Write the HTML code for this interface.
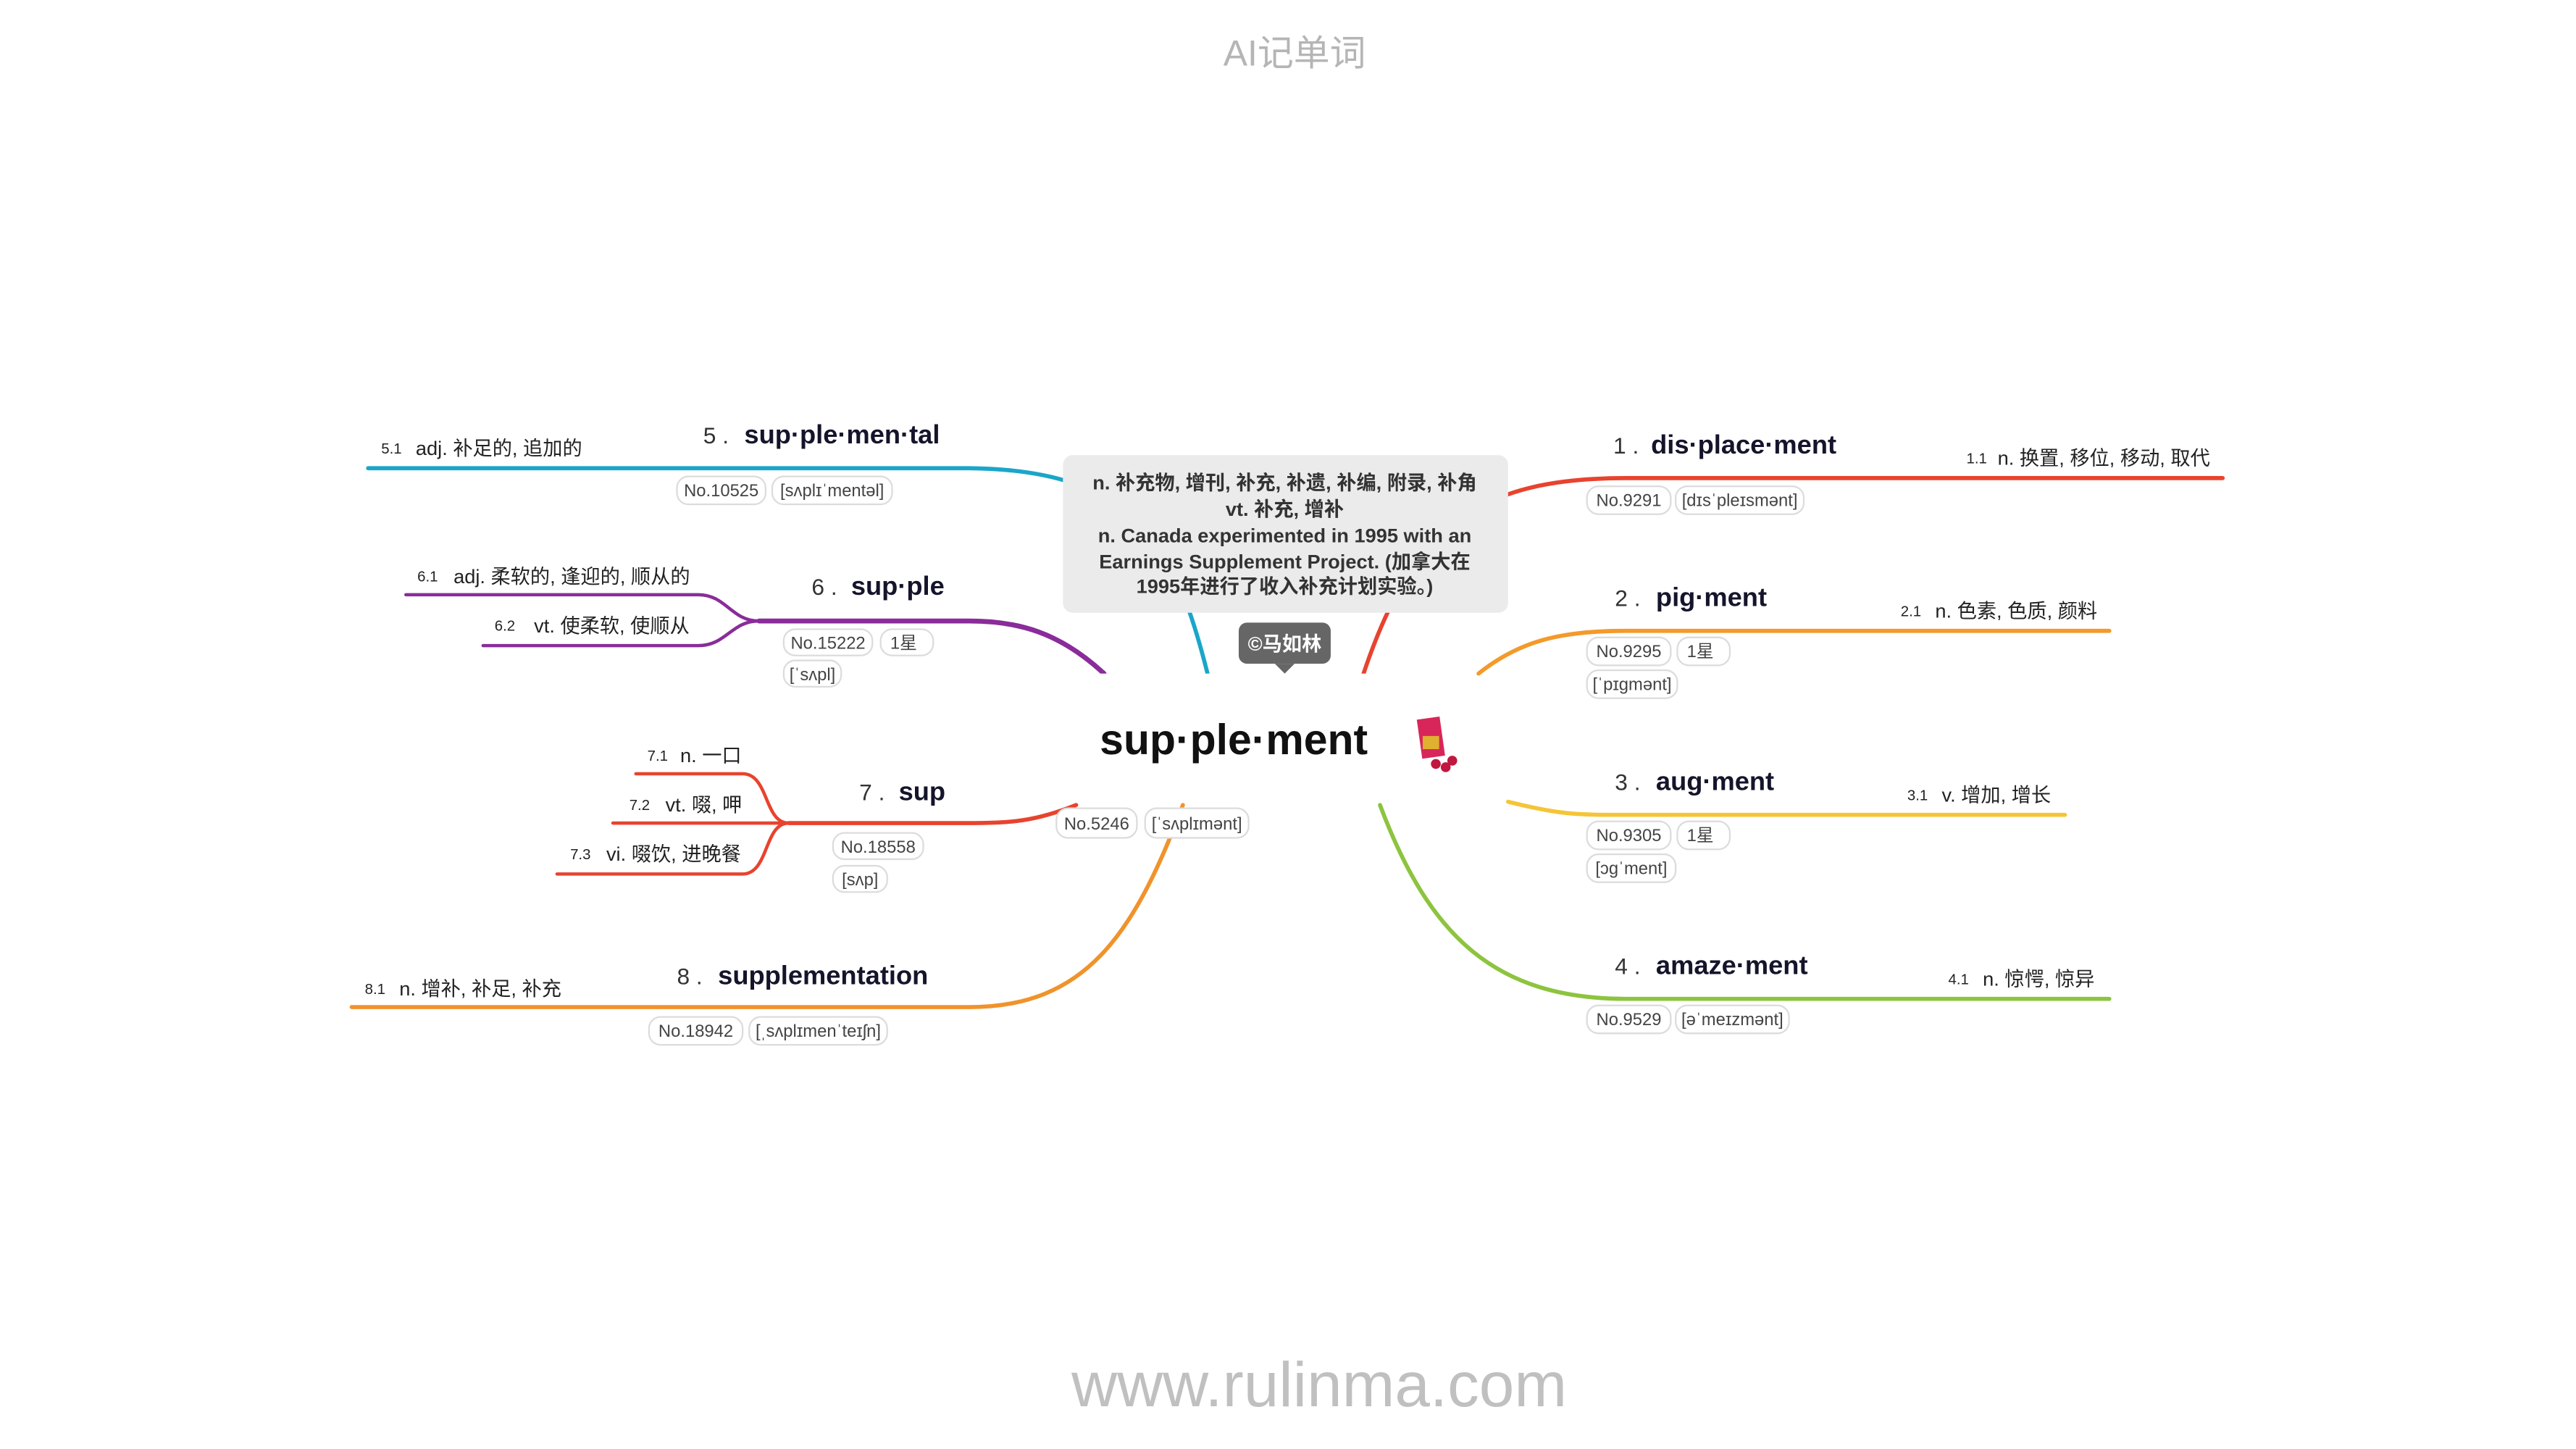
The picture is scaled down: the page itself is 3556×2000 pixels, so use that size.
<!DOCTYPE html>
<html><head><meta charset="utf-8"><style>
html,body{margin:0;padding:0;background:#fff;}
svg{display:block;font-family:"Liberation Sans","Noto Sans CJK SC",sans-serif;}
.pill rect{fill:#fff;stroke:#dcdcdc;stroke-width:1;}
.pill text{font-size:10.5px;fill:#444;}
.num{font-size:9px;fill:#222;}
.def{font-size:12px;fill:#222;}
.idx{font-size:14px;fill:#333;}
.word{font-size:16px;font-weight:bold;fill:#14142b;}
.ln{fill:none;stroke-linecap:round;}
</style></head><body>
<svg width="3556" height="2000" viewBox="0 0 1568 882">
<text x="788" y="40" text-anchor="middle" font-size="22" fill="#b5b5b5">AI记单词</text>
<text x="803" y="856" text-anchor="middle" font-size="38.5" fill="#c0c0c0">www.rulinma.com</text>

<g>
<path class="ln" d="M735,410 C715,330 690,286 590,285 L224,285" stroke="#1aa6c9" stroke-width="2.5"/>
<path class="ln" d="M830,410 C860,320 900,291 990,291 L1353,291" stroke="#e8432e" stroke-width="2.5"/>
<path class="ln" d="M672,410 C645,385 620,378 590,378 L462,378" stroke="#8a2c9a" stroke-width="3"/>
<path class="ln" d="M462,378 C445,378 442,362 425,362 L247,362" stroke="#8a2c9a" stroke-width="2"/>
<path class="ln" d="M462,378 C445,378 442,393 425,393 L294,393" stroke="#8a2c9a" stroke-width="2"/>
<path class="ln" d="M900,410 C925,390 950,384 990,384 L1284,384" stroke="#f39a2b" stroke-width="2.5"/>
<path class="ln" d="M655,490 C630,500 615,501 590,501 L480,501" stroke="#e8432e" stroke-width="2.5"/>
<path class="ln" d="M480,501 C465,501 468,471 452,471 L387,471" stroke="#e8432e" stroke-width="2"/>
<path class="ln" d="M480,501 L373,501" stroke="#e8432e" stroke-width="2"/>
<path class="ln" d="M480,501 C465,501 468,532 452,532 L339,532" stroke="#e8432e" stroke-width="2"/>
<path class="ln" d="M918,488 C950,496 960,496 990,496 L1257,496" stroke="#f5c537" stroke-width="2.5"/>
<path class="ln" d="M720,490 C690,570 660,613 590,613 L214,613" stroke="#f0932b" stroke-width="2.5"/>
<path class="ln" d="M840,490 C870,570 910,608 990,608 L1284,608" stroke="#8dc43f" stroke-width="2.5"/>
</g>

<rect x="640" y="410" width="220" height="78" fill="#fff"/>
<rect x="647" y="277" width="271" height="96" rx="6" fill="#ebebeb"/>
<g font-size="12" font-weight="bold" fill="#333" text-anchor="middle">
<text x="782" y="298">n. 补充物, 增刊, 补充, 补遗, 补编, 附录, 补角</text>
<text x="782" y="314">vt. 补充, 增补</text>
<text x="782" y="330">n. Canada experimented in 1995 with an</text>
<text x="782" y="346">Earnings Supplement Project. (加拿大在</text>
<text x="782" y="361">1995年进行了收入补充计划实验。)</text>
</g>
<g>
<rect x="754" y="379" width="56" height="25" rx="5" fill="#666"/>
<path d="M776,404 L782,410 L788,404 Z" fill="#666"/>
<text x="782" y="396" text-anchor="middle" font-size="12" font-weight="bold" fill="#fff">©马如林</text>
</g>
<text x="751" y="459" text-anchor="middle" font-size="26" font-weight="bold" fill="#111">sup·ple·ment</text>
<g>
<rect x="864" y="437" width="14" height="24" fill="#d8265a" transform="rotate(-8 871 449)"/>
<rect x="866" y="448" width="10" height="8" fill="#e0b030"/>
<circle cx="874" cy="465" r="3" fill="#c0183f"/><circle cx="880" cy="467" r="3" fill="#c0183f"/><circle cx="884" cy="463" r="3" fill="#c0183f"/>
</g>
<g class="pill"><rect x="643" y="492" width="49" height="18" rx="7"/><text x="667.5" y="505" text-anchor="middle">No.5246</text></g>
<g class="pill"><rect x="697" y="492" width="63" height="18" rx="7"/><text x="728.5" y="505" text-anchor="middle">[ˈsʌplɪmənt]</text></g>

<g>
<text x="428" y="270" class="idx">5 .</text><text x="453" y="270" class="word">sup·ple·men·tal</text>
<g class="pill"><rect x="412" y="290" width="54" height="17" rx="7"/><text x="439" y="302" text-anchor="middle">No.10525</text></g>
<g class="pill"><rect x="470" y="290" width="73" height="17" rx="7"/><text x="506.5" y="302" text-anchor="middle">[sʌplɪˈmentəl]</text></g>
<text x="232" y="276" class="num">5.1</text><text x="253" y="277" class="def">adj. 补足的, 追加的</text>
</g>
<g>
<text x="494" y="362" class="idx">6 .</text><text x="518" y="362" class="word">sup·ple</text>
<g class="pill"><rect x="477" y="383" width="54" height="16" rx="7"/><text x="504" y="395" text-anchor="middle">No.15222</text></g>
<g class="pill"><rect x="536" y="383" width="32" height="16" rx="7"/><text x="550" y="395" text-anchor="middle">1星</text></g>
<g class="pill"><rect x="477" y="402" width="35" height="16" rx="7"/><text x="494.5" y="414" text-anchor="middle">[ˈsʌpl]</text></g>
<text x="254" y="354" class="num">6.1</text><text x="276" y="355" class="def">adj. 柔软的, 逢迎的, 顺从的</text>
<text x="301" y="384" class="num">6.2</text><text x="325" y="385" class="def">vt. 使柔软, 使顺从</text>
</g>
<g>
<text x="523" y="487" class="idx">7 .</text><text x="547" y="487" class="word">sup</text>
<g class="pill"><rect x="507" y="507" width="55" height="16" rx="7"/><text x="534.5" y="519" text-anchor="middle">No.18558</text></g>
<g class="pill"><rect x="507" y="527" width="33" height="16" rx="7"/><text x="523.5" y="539" text-anchor="middle">[sʌp]</text></g>
<text x="394" y="463" class="num">7.1</text><text x="414" y="464" class="def">n. 一口</text>
<text x="383" y="493" class="num">7.2</text><text x="405" y="494" class="def">vt. 啜, 呷</text>
<text x="347" y="523" class="num">7.3</text><text x="369" y="524" class="def">vi. 啜饮, 进晚餐</text>
</g>
<g>
<text x="412" y="599" class="idx">8 .</text><text x="437" y="599" class="word">supplementation</text>
<g class="pill"><rect x="395" y="619" width="57" height="17" rx="7"/><text x="423.5" y="631" text-anchor="middle">No.18942</text></g>
<g class="pill"><rect x="456" y="619" width="84" height="17" rx="7"/><text x="498" y="631" text-anchor="middle">[ˌsʌplɪmenˈteɪʃn]</text></g>
<text x="222" y="605" class="num">8.1</text><text x="243" y="606" class="def">n. 增补, 补足, 补充</text>
</g>
<g>
<text x="982" y="276" class="idx">1 .</text><text x="1005" y="276" class="word">dis·place·ment</text>
<g class="pill"><rect x="966" y="296" width="51" height="17" rx="7"/><text x="991.5" y="308" text-anchor="middle">No.9291</text></g>
<g class="pill"><rect x="1020" y="296" width="78" height="17" rx="7"/><text x="1059" y="308" text-anchor="middle">[dɪsˈpleɪsmənt]</text></g>
<text x="1197" y="282" class="num">1.1</text><text x="1216" y="283" class="def">n. 换置, 移位, 移动, 取代</text>
</g>
<g>
<text x="983" y="369" class="idx">2 .</text><text x="1008" y="369" class="word">pig·ment</text>
<g class="pill"><rect x="966" y="388" width="51" height="17" rx="7"/><text x="991.5" y="400" text-anchor="middle">No.9295</text></g>
<g class="pill"><rect x="1021" y="388" width="32" height="17" rx="7"/><text x="1035" y="400" text-anchor="middle">1星</text></g>
<g class="pill"><rect x="966" y="408" width="55" height="17" rx="7"/><text x="993.5" y="420" text-anchor="middle">[ˈpɪɡmənt]</text></g>
<text x="1157" y="375" class="num">2.1</text><text x="1178" y="376" class="def">n. 色素, 色质, 颜料</text>
</g>
<g>
<text x="983" y="481" class="idx">3 .</text><text x="1008" y="481" class="word">aug·ment</text>
<g class="pill"><rect x="966" y="500" width="51" height="17" rx="7"/><text x="991.5" y="512" text-anchor="middle">No.9305</text></g>
<g class="pill"><rect x="1021" y="500" width="32" height="17" rx="7"/><text x="1035" y="512" text-anchor="middle">1星</text></g>
<g class="pill"><rect x="966" y="520" width="54" height="17" rx="7"/><text x="993" y="532" text-anchor="middle">[ɔɡˈment]</text></g>
<text x="1161" y="487" class="num">3.1</text><text x="1182" y="488" class="def">v. 增加, 增长</text>
</g>
<g>
<text x="983" y="593" class="idx">4 .</text><text x="1008" y="593" class="word">amaze·ment</text>
<g class="pill"><rect x="966" y="612" width="51" height="17" rx="7"/><text x="991.5" y="624" text-anchor="middle">No.9529</text></g>
<g class="pill"><rect x="1020" y="612" width="69" height="17" rx="7"/><text x="1054.5" y="624" text-anchor="middle">[əˈmeɪzmənt]</text></g>
<text x="1186" y="599" class="num">4.1</text><text x="1207" y="600" class="def">n. 惊愕, 惊异</text>
</g>
</svg>
</body></html>
